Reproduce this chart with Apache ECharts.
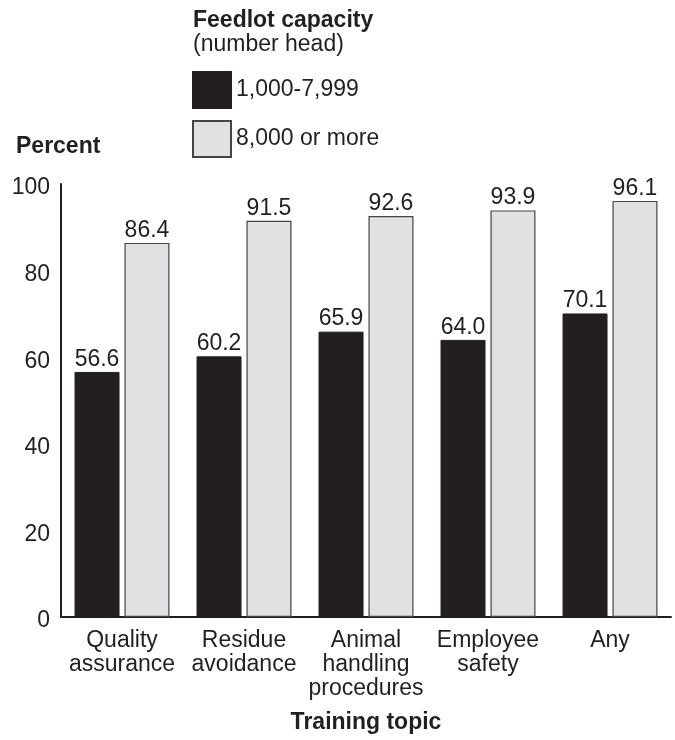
<!DOCTYPE html>
<html>
<head>
<meta charset="utf-8">
<script src="https://cdn.jsdelivr.net/npm/echarts@6/dist/echarts.min.js"></script>
<style>
html,body{margin:0;padding:0;background:#fff;}
#chart{width:675px;height:740px;}
</style>
</head>
<body>
<div id="chart"></div>
<script>
const categories = ['Quality\nassurance', 'Residue\navoidance', 'Animal\nhandling\nprocedures', 'Employee\nsafety', 'Any'];
const seriesNames = ['1,000-7,999', '8,000 or more'];
const smallFeedlots = [56.6, 60.2, 65.9, 64.0, 70.1];
const largeFeedlots = [86.4, 91.5, 92.6, 93.9, 96.1];
const yTicks = [0, 20, 40, 60, 80, 100];

const FONT = "'Liberation Sans', Arial, Helvetica, sans-serif";
const INK = '#231f20';

const chart = echarts.init(document.getElementById('chart'), null, {renderer: 'canvas'});

const valueLabel = {
  show: true,
  position: 'top',
  distance: 1,
  color: INK,
  fontFamily: FONT,
  fontSize: 23,
  lineHeight: 23,
  formatter: p => Number(p.value).toFixed(1)
};

chart.setOption({
  animation: false,
  backgroundColor: '#ffffff',
  textStyle: {fontFamily: FONT, color: INK},
  grid: {left: 61, right: 4, top: 184, bottom: 123, containLabel: false},
  legend: {
    orient: 'vertical',
    left: 192,
    top: 71,
    padding: 0,
    itemWidth: 38,
    itemHeight: 36,
    itemGap: 11,
    icon: 'rect',
    textStyle: {fontFamily: FONT, fontSize: 23, color: INK},
    data: seriesNames
  },
  xAxis: {
    type: 'category',
    data: categories,
    axisLine: {show: true, lineStyle: {color: INK, width: 2}},
    axisTick: {show: false},
    axisLabel: {
      interval: 0,
      margin: 12,
      color: INK,
      fontFamily: FONT,
      fontSize: 23,
      lineHeight: 24
    }
  },
  yAxis: {
    type: 'value',
    min: yTicks[0],
    max: yTicks[yTicks.length - 1],
    interval: 20,
    splitLine: {show: false},
    axisLine: {show: true, lineStyle: {color: INK, width: 2}},
    axisTick: {show: false},
    axisLabel: {
      margin: 11,
      color: INK,
      fontFamily: FONT,
      fontSize: 23,
      formatter: v => '{t|' + v + '}',
      rich: {t: {fontFamily: FONT, fontSize: 23, color: INK, padding: [8, 0, 0, 0]}}
    }
  },
  series: [
    {
      name: seriesNames[0],
      type: 'bar',
      data: smallFeedlots,
      barWidth: 45,
      barGap: '11%',
      itemStyle: {color: INK, borderColor: INK, borderWidth: 1},
      label: valueLabel
    },
    {
      name: seriesNames[1],
      type: 'bar',
      data: largeFeedlots,
      barWidth: 45,
      barGap: '11%',
      itemStyle: {color: '#e0e1e3', borderColor: '#444', borderWidth: 1.2},
      label: valueLabel
    }
  ],
  graphic: [
    {type: 'text', x: 193, y: 21, style: {text: 'Feedlot capacity', font: "bold 23px " + FONT, fill: INK, textAlign: 'left', textVerticalAlign: 'middle', align: 'left', verticalAlign: 'middle'}},
    {type: 'text', x: 193, y: 45, style: {text: '(number head)', font: "23px " + FONT, fill: INK, textAlign: 'left', textVerticalAlign: 'middle', align: 'left', verticalAlign: 'middle'}},
    {type: 'text', x: 16, y: 147, style: {text: 'Percent', font: "bold 23px " + FONT, fill: INK, textAlign: 'left', textVerticalAlign: 'middle', align: 'left', verticalAlign: 'middle'}},
    {type: 'text', x: 366, y: 723, style: {text: 'Training topic', font: "bold 23px " + FONT, fill: INK, textAlign: 'center', textVerticalAlign: 'middle', align: 'center', verticalAlign: 'middle'}}
  ]
});
</script>
</body>
</html>
